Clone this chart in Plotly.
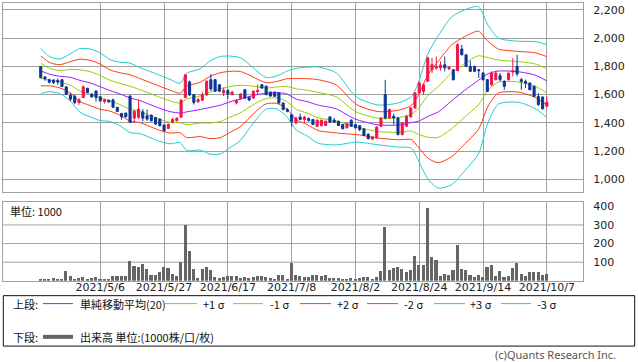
import plotly.graph_objects as go

# ---------------- data ----------------
DATE_TICK_IDX = [14, 29, 44, 59, 74, 89, 104, 119]
DATE_TICK_TEXT = ["2021/5/6", "2021/5/27", "2021/6/17", "2021/7/8",
                  "2021/8/2", "2021/8/24", "2021/9/14", "2021/10/7"]

OPEN = [1798, 1725, 1706, 1703, 1700, 1706, 1655, 1595, 1590, 1544,
        1580, 1645, 1603, 1626, 1585, 1551, 1560, 1563, 1510, 1467,
        1469, 1591, 1434, 1440, 1478, 1450, 1455, 1438, 1427, 1385,
        1361, 1403, 1415, 1440, 1580, 1690, 1600, 1550, 1560, 1598,
        1706, 1706, 1670, 1612, 1628, 1600, 1541, 1572, 1635, 1580,
        1576, 1620, 1670, 1660, 1618, 1618, 1612, 1541, 1494, 1458,
        1400, 1442, 1424, 1430, 1424, 1376, 1380, 1381, 1442, 1419,
        1412, 1388, 1365, 1419, 1388, 1381, 1358, 1320, 1285, 1294,
        1376, 1600, 1435, 1447, 1435, 1318, 1376, 1442, 1506, 1612,
        1623, 1694, 1776, 1788, 1790, 1812, 1782, 1776, 1770, 1923,
        1882, 1800, 1800, 1776, 1753, 1706, 1670, 1706, 1735, 1694,
        1706, 1760, 1800, 1706, 1694, 1682, 1659, 1588, 1583, 1518]
HIGH = [1800, 1732, 1712, 1710, 1715, 1710, 1658, 1612, 1595, 1575,
        1665, 1648, 1612, 1630, 1588, 1572, 1566, 1572, 1512, 1470,
        1472, 1591, 1495, 1565, 1497, 1495, 1458, 1440, 1430, 1388,
        1395, 1435, 1440, 1570, 1746, 1700, 1605, 1578, 1620, 1700,
        1746, 1710, 1675, 1650, 1640, 1625, 1570, 1610, 1640, 1585,
        1630, 1670, 1675, 1665, 1622, 1620, 1615, 1545, 1505, 1462,
        1440, 1466, 1450, 1440, 1428, 1425, 1422, 1415, 1448, 1435,
        1415, 1390, 1400, 1425, 1392, 1385, 1360, 1325, 1305, 1375,
        1440, 1705, 1500, 1466, 1440, 1405, 1452, 1510, 1618, 1690,
        1680, 1870, 1859, 1870, 1835, 1870, 1800, 1780, 1965, 1953,
        1885, 1840, 1805, 1780, 1760, 1710, 1765, 1770, 1753, 1700,
        1756, 1859, 1882, 1718, 1706, 1688, 1665, 1610, 1588, 1588]
LOW = [1718, 1697, 1680, 1675, 1670, 1655, 1598, 1555, 1533, 1528,
       1578, 1612, 1580, 1551, 1550, 1537, 1545, 1508, 1478, 1422,
       1440, 1400, 1403, 1427, 1410, 1415, 1410, 1385, 1375, 1340,
       1355, 1398, 1410, 1437, 1575, 1590, 1530, 1540, 1555, 1590,
       1627, 1620, 1618, 1590, 1570, 1595, 1530, 1565, 1570, 1555,
       1570, 1600, 1640, 1595, 1585, 1585, 1535, 1490, 1475, 1376,
       1390, 1420, 1400, 1410, 1385, 1370, 1375, 1378, 1400, 1400,
       1378, 1355, 1360, 1372, 1360, 1340, 1308, 1282, 1280, 1290,
       1370, 1424, 1430, 1388, 1310, 1310, 1370, 1438, 1500, 1605,
       1600, 1690, 1753, 1776, 1770, 1765, 1776, 1700, 1765, 1878,
       1795, 1760, 1760, 1718, 1700, 1620, 1660, 1700, 1695, 1635,
       1700, 1730, 1730, 1635, 1647, 1630, 1583, 1520, 1495, 1510]
CLOSE = [1720, 1713, 1688, 1685, 1690, 1657, 1603, 1568, 1545, 1563,
         1655, 1615, 1584, 1580, 1556, 1565, 1548, 1510, 1481, 1443,
         1443, 1403, 1481, 1498, 1434, 1427, 1415, 1392, 1380, 1345,
         1390, 1425, 1433, 1560, 1740, 1598, 1545, 1565, 1598, 1695,
         1640, 1624, 1624, 1630, 1605, 1618, 1558, 1605, 1576, 1562,
         1624, 1630, 1647, 1600, 1590, 1588, 1541, 1494, 1482, 1411,
         1435, 1424, 1442, 1416, 1388, 1419, 1419, 1412, 1405, 1405,
         1381, 1358, 1395, 1376, 1365, 1353, 1311, 1288, 1302, 1370,
         1435, 1435, 1494, 1435, 1318, 1400, 1447, 1506, 1612, 1683,
         1670, 1859, 1812, 1800, 1810, 1790, 1795, 1706, 1953, 1882,
         1800, 1765, 1765, 1770, 1706, 1623, 1753, 1753, 1706, 1659,
         1753, 1770, 1747, 1694, 1680, 1635, 1588, 1530, 1500, 1546]
VOLUME = [12.6, 9, 9, 18, 12.6, 12.6, 54, 25, 12.6, 18,
          21.5, 12.6, 18, 21.5, 9, 12.6, 9, 25, 25, 25,
          25, 108, 81, 72, 90, 65, 29, 34, 48, 75,
          68, 36, 25, 102, 302, 162, 66, 16, 66, 75,
          59, 21.5, 16, 21.5, 25, 25, 25, 16, 21.5, 16,
          21.5, 25, 25, 21.5, 16, 9, 29, 34, 9, 97,
          29, 25, 21.5, 21.5, 29, 29, 28, 34, 18, 18,
          18, 12, 12, 18, 9, 18, 23, 23, 9, 23,
          53, 290, 60, 71, 77, 66, 45, 60, 135, 87,
          84, 390, 130, 114, 28, 39, 34, 60, 194, 66,
          60, 34, 23, 34, 23, 77, 87, 28, 55, 23,
          28, 71, 98, 39, 28, 45, 45, 45, 34, 39]

# 20-day moving average and its standard deviation, read at sample positions
BAND_IDX = [0, 2.2, 4.5, 6.9, 9.2, 11.6, 13.9, 16.3, 18.6, 21,
            23.3, 25.7, 28, 30.4, 32.8, 34.3, 37.5, 39.8, 42.2, 44.5,
            46.9, 49.2, 51.6, 53.1, 55.5, 57.8, 60.1, 62.6, 65.2, 69.5,
            72.9, 74.6, 79.3, 84, 87.2, 88.7, 91.1, 93.5, 96.6, 99.7,
            102.9, 105.2, 107.6, 112.3, 116.2, 119]
MA20 = [1768, 1744, 1730, 1723, 1701, 1683, 1657, 1629, 1605, 1577,
        1558, 1530, 1503, 1480, 1470, 1478, 1495, 1509, 1525, 1549,
        1568, 1588, 1604, 1610, 1615, 1606, 1568, 1551, 1526, 1499,
        1442, 1420, 1386, 1385, 1403, 1410, 1447, 1478, 1556, 1631,
        1701, 1748, 1767, 1762, 1739, 1697]
SIGMA = [53, 41, 41, 55, 75, 80, 80, 73, 75, 82,
         78, 78, 78, 76, 70, 91, 96, 110, 115, 108,
         98, 74, 48, 37, 39, 53, 73, 81, 90, 85,
         61, 52, 47, 52, 61, 90, 149, 180, 198, 190,
         174, 114, 78, 72, 79, 86]

# ---------------- styling ----------------
W, H = 638, 362
X_RANGE = [-8.8, 127.5]
GRID = "#a0a0a0"
TXT = "#222222"
TICKFONT = dict(family="DejaVu Sans", size=11, color=TXT)
JPFONT = dict(family="Noto Sans CJK JP", size=11, color="#111111")
C_MA = "#9a19ff"
C_1 = "#99cc00"
C_2 = "#ff3a10"
C_3 = "#22cccc"
C_UP = "#f5134a"
C_DN = "#0a3697"
C_VOL = "#666666"


def px(x):
    return x / W


def py(y):
    return 1 - y / H


fig = go.Figure()

# bands (main panel)
band_defs = [(3, C_3), (2, C_2), (1, C_1)]
for k, col in band_defs:
    for sgn in (1, -1):
        fig.add_trace(go.Scatter(
            x=BAND_IDX, y=[m + sgn * k * s for m, s in zip(MA20, SIGMA)],
            mode="lines", line=dict(color=col, width=1, shape="spline", smoothing=0.7),
            xaxis="x", yaxis="y", hoverinfo="skip", showlegend=False))
fig.add_trace(go.Scatter(
    x=BAND_IDX, y=MA20, mode="lines",
    line=dict(color=C_MA, width=1, shape="spline", smoothing=0.7),
    xaxis="x", yaxis="y", hoverinfo="skip", showlegend=False))

idx = list(range(len(CLOSE)))
fig.add_trace(go.Candlestick(
    x=idx, open=OPEN, high=HIGH, low=LOW, close=CLOSE,
    increasing=dict(line=dict(color=C_UP, width=1), fillcolor=C_UP),
    decreasing=dict(line=dict(color=C_DN, width=1), fillcolor=C_DN),
    whiskerwidth=0, xaxis="x", yaxis="y3", showlegend=False))

fig.add_trace(go.Bar(
    x=idx, y=VOLUME, marker=dict(color=C_VOL, line=dict(width=0)),
    width=0.72, xaxis="x2", yaxis="y2", showlegend=False))

MAIN_DOM = [py(190.7), py(1.0)]
VOL_DOM = [py(280.3), py(201.0)]
X_DOM = [px(3.3), px(583.0)]
Y_MAIN_RANGE = [913, 2249]
Y_VOL_RANGE = [0, 424]

axis_common = dict(showline=True, linecolor=GRID, linewidth=1, mirror=True,
                   zeroline=False, gridcolor=GRID, gridwidth=1)

fig.update_layout(
    width=W, height=H, margin=dict(l=0, r=0, t=0, b=0),
    paper_bgcolor="white", plot_bgcolor="white", showlegend=False,
    xaxis=dict(domain=X_DOM, range=X_RANGE, anchor="y", tickmode="array",
               tickvals=DATE_TICK_IDX, showticklabels=False, ticks="",
               rangeslider=dict(visible=False), showgrid=True, **axis_common),
    yaxis=dict(domain=MAIN_DOM, range=Y_MAIN_RANGE, side="right", anchor="x",
               tickmode="array", tickvals=[1000, 1200, 1400, 1600, 1800, 2000, 2200],
               tickformat=",d", tickfont=TICKFONT, ticks="", ticklabelstandoff=7,
               showgrid=True, **axis_common),
    yaxis3=dict(range=Y_MAIN_RANGE, overlaying="y", anchor="x", side="right",
                showticklabels=False, showgrid=False, zeroline=False, showline=False),
    xaxis2=dict(domain=X_DOM, range=X_RANGE, anchor="y2", tickmode="array",
                tickvals=DATE_TICK_IDX, ticktext=DATE_TICK_TEXT, tickfont=TICKFONT,
                ticks="", ticklabelstandoff=-4, showgrid=True, **axis_common),
    yaxis2=dict(domain=VOL_DOM, range=Y_VOL_RANGE, side="right", anchor="x2",
                tickmode="array", tickvals=[100, 200, 300, 400], tickfont=TICKFONT,
                ticks="", ticklabelstandoff=7, showgrid=False, **axis_common),
    bargap=0,
)

shapes = []
# volume gridlines (100/200/300)
for v in [100, 200, 300]:
    shapes.append(dict(type="line", xref="x2 domain", yref="y2", x0=0, x1=1, y0=v, y1=v,
                       line=dict(color=GRID, width=1), layer="below"))

# legend box
shapes.append(dict(type="rect", xref="paper", yref="paper",
                   x0=px(3.3), x1=px(634.7), y0=py(346), y1=py(295.3),
                   line=dict(color="#111111", width=1)))

annotations = []
ROW1, ROW2 = 303.3, 336.7
annotations.append(dict(text="上段:", x=px(11), y=py(ROW1)))
annotations.append(dict(text="下段:", x=px(11), y=py(ROW2)))
legend_row1 = [
    (43, 73, C_MA, 78, "単純移動平均(20)"),
    (165, 197, C_1, 201, "+1 σ"),
    (233, 263, C_1, 268, "-1 σ"),
    (300, 331, C_2, 335, "+2 σ"),
    (367, 398, C_2, 402, "-2 σ"),
    (434, 465, C_3, 468, "+3 σ"),
    (501, 531, C_3, 535, "-3 σ"),
]
for x0, x1, col, tx, label in legend_row1:
    shapes.append(dict(type="line", xref="paper", yref="paper", x0=px(x0), x1=px(x1),
                       y0=py(ROW1), y1=py(ROW1), line=dict(color=col, width=1)))
    annotations.append(dict(text=label, x=px(tx), y=py(ROW1)))
shapes.append(dict(type="line", xref="paper", yref="paper", x0=px(43), x1=px(73),
                   y0=py(ROW2), y1=py(ROW2), line=dict(color=C_VOL, width=4)))
annotations.append(dict(text="出来高 単位:(1000株/口/枚)", x=px(78), y=py(ROW2)))
annotations.append(dict(text="単位: 1000", x=px(8), y=py(210)))

for a in annotations:
    a.update(xref="paper", yref="paper", xanchor="left", yanchor="middle",
             showarrow=False, font=JPFONT)

annotations.append(dict(text="(c)Quants Research Inc.", x=px(618), y=py(354.5),
                        xref="paper", yref="paper", xanchor="right", yanchor="middle",
                        showarrow=False,
                        font=dict(family="Noto Sans", size=11, color="#555555")))

fig.update_layout(shapes=shapes, annotations=annotations)
fig.write_html("out.html")
